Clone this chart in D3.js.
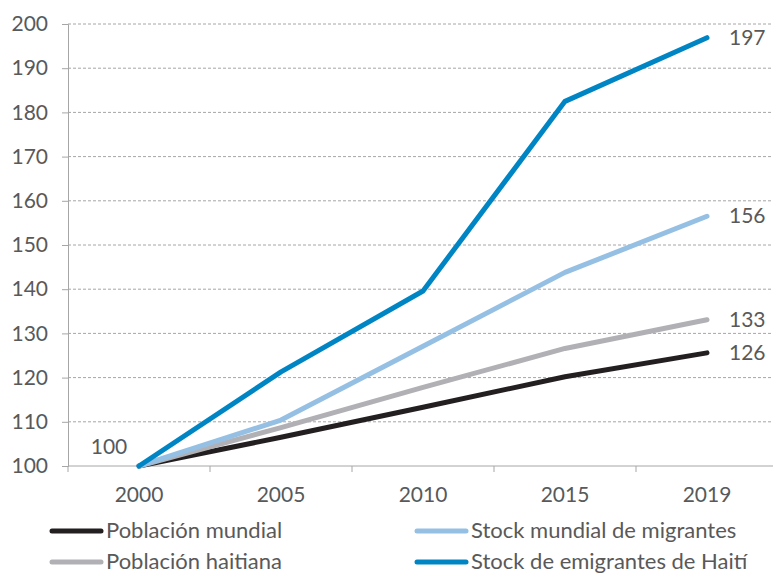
<!DOCTYPE html>
<html lang="es">
<head>
<meta charset="utf-8">
<title>Stock de emigrantes</title>
<script src="https://d3js.org/d3.v7.min.js"></script>
<style>
  body { margin: 0; background: #fff; font-family: Lato, "Open Sans", sans-serif; }
  text { fill: #595959; }
</style>
</head>
<body>
<script>
// data
var years = ["2000", "2005", "2010", "2015", "2019"];
var poblacionMundial = [100, 106.5, 113.3, 120.2, 125.6];
var poblacionHaitiana = [100, 108.7, 117.8, 126.6, 133.1];
var stockMundial = [100, 110.4, 127.1, 143.8, 156.5];
var stockHaiti = [100, 121.3, 139.6, 182.5, 196.9];
var yTicks = [100, 110, 120, 130, 140, 150, 160, 170, 180, 190, 200];
var seriesNames = ["Población mundial", "Población haitiana", "Stock mundial de migrantes", "Stock de emigrantes de Haití"];
var endLabels = ["126", "133", "156", "197"];

var w = 773, h = 574;
var padLeft = 68, padRight = 778, padTop = 24, padBottom = 466;
var fs = "21px";

var svg = d3.select("body").append("svg")
  .attr("width", w)
  .attr("height", h);

var x = d3.scaleBand().domain(years).range([padLeft, padRight]);
var y = d3.scaleLinear().domain([100, 200]).range([padBottom, padTop]);
var cx = function(d) { return x(d) + x.bandwidth() / 2; };

// gridlines
svg.append("g").selectAll("line")
  .data(yTicks.slice(1))
  .enter().append("line")
  .attr("x1", padLeft).attr("x2", w)
  .attr("y1", function(d) { return y(d); })
  .attr("y2", function(d) { return y(d); })
  .attr("stroke", "#a6a6a6")
  .attr("stroke-width", 1)
  .attr("stroke-dasharray", "3,2");

// y axis
var yAxis = d3.axisLeft(y).tickValues(yTicks).tickSize(6).tickPadding(14);
var gy = svg.append("g").attr("transform", "translate(" + padLeft + ",0)").call(yAxis);
gy.select(".domain").attr("stroke", "#a6a6a6");
gy.selectAll(".tick line").attr("stroke", "#a6a6a6");
gy.selectAll("text").attr("font-size", fs).attr("font-family", "Lato, sans-serif").style("fill", "#595959");

// x axis
svg.append("line")
  .attr("x1", padLeft).attr("x2", w)
  .attr("y1", padBottom).attr("y2", padBottom)
  .attr("stroke", "#a6a6a6");
svg.append("g").selectAll("line")
  .data(years)
  .enter().append("line")
  .attr("x1", function(d) { return x(d); })
  .attr("x2", function(d) { return x(d); })
  .attr("y1", padBottom).attr("y2", padBottom + 6)
  .attr("stroke", "#a6a6a6");
svg.append("g").selectAll("text")
  .data(years)
  .enter().append("text")
  .attr("x", cx)
  .attr("y", padBottom + 36)
  .attr("text-anchor", "middle")
  .attr("font-size", fs)
  .text(function(d) { return d; });

// lines
var series = [
  { name: seriesNames[0], values: poblacionMundial, color: "#231f20", label: endLabels[0] },
  { name: seriesNames[1], values: poblacionHaitiana, color: "#b1b1b5", label: endLabels[1] },
  { name: seriesNames[2], values: stockMundial, color: "#95c0e4", label: endLabels[2] },
  { name: seriesNames[3], values: stockHaiti, color: "#0085c4", label: endLabels[3] }
];

var line = d3.line()
  .x(function(d, i) { return cx(years[i]); })
  .y(function(d) { return y(d); });

svg.append("g").selectAll("path")
  .data(series)
  .enter().append("path")
  .attr("d", function(d) { return line(d.values); })
  .attr("fill", "none")
  .attr("stroke", function(d) { return d.color; })
  .attr("stroke-width", 5)
  .attr("stroke-linejoin", "round")
  .attr("stroke-linecap", "round");

// end labels
svg.append("g").selectAll("text")
  .data(series)
  .enter().append("text")
  .attr("x", cx(years[4]) + 22)
  .attr("y", function(d) { return y(d.values[4]) + 7; })
  .attr("font-size", fs)
  .text(function(d) { return d.label; });

svg.append("text")
  .attr("x", cx(years[0]) - 30)
  .attr("y", y(100) - 12)
  .attr("text-anchor", "middle")
  .attr("font-size", fs)
  .text("100");

// legend
var legendPos = [[50, 531], [50, 562], [415, 531], [415, 562]];
var lg = svg.append("g").selectAll("g")
  .data(series)
  .enter().append("g")
  .attr("transform", function(d, i) { return "translate(" + legendPos[i][0] + "," + legendPos[i][1] + ")"; });
lg.append("line")
  .attr("x1", 2).attr("x2", 51)
  .attr("stroke", function(d) { return d.color; })
  .attr("stroke-width", 5)
  .attr("stroke-linecap", "round");
lg.append("text")
  .attr("x", 56)
  .attr("y", 7)
  .attr("font-size", "22px")
  .text(function(d) { return d.name; });
</script>
</body>
</html>
